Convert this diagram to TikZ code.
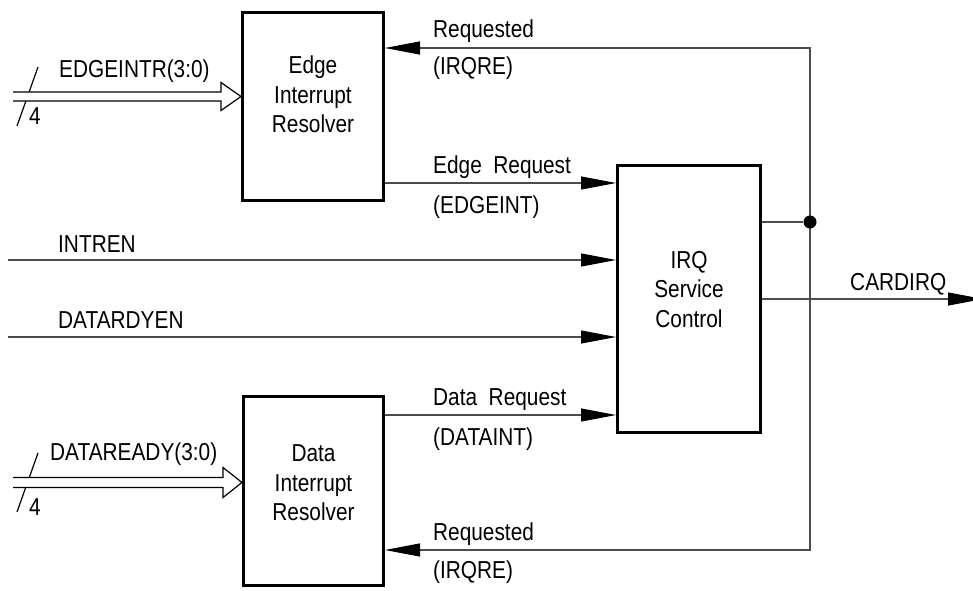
\documentclass[tikz,border=0pt]{standalone}
\usepackage{fontspec}
\setmainfont{Liberation Sans}[FakeStretch=0.85,WordSpace=2]
\usetikzlibrary{arrows.meta,calc}

\begin{document}
\begin{tikzpicture}[x=1pt,y=1pt,
    block/.style={draw,line width=3pt,inner sep=0pt},
    sig/.style={line width=1.1pt,draw=black!70},
    tip/.style={-{Triangle[length=35pt,width=13pt,color=black]}},
    bus/.style={line width=1.2pt},
    lbl/.style={inner sep=0pt,anchor=base west},
    every node/.style={font=\fontsize{24.5}{29.5}\selectfont}]
    \useasboundingbox (0,0) rectangle (973,590);

    % Blocks
    \node[block,minimum width=141pt,minimum height=188pt,
      label={[yshift=12pt,align=center]center:{Edge\\Interrupt\\Resolver}}] (edge) at (313,483.5) {};
    \node[block,minimum width=140pt,minimum height=189pt,
      label={[yshift=8pt,align=center]center:{Data\\Interrupt\\Resolver}}] (data) at (313.5,99) {};
    \node[block,minimum width=143pt,minimum height=267pt,
      label={[yshift=9.5pt,align=center]center:{IRQ\\Service\\Control}}] (irq) at (689,291) {};

    % Bus inputs
    \coordinate (eintr) at (13,493.5);
    \coordinate (etip) at (eintr -| edge.west);
    \draw[bus] ($(eintr)+(0,4.5)$) -- ($(etip)+(-20,4.5)$) -- ++(0,9.5) -- (etip)
      -- ++(-20,-14) -- ++(0,9.5) -- ($(eintr)+(0,-4.5)$);
    \draw[bus] (38,523) -- (29.1,498);
    \draw[bus] (25.9,489) -- (17,464);
    \node[lbl] (eintrname) at (59,512) {EDGEINTR(3:0)};
    \node[lbl] (eintrwidth) at (29,465) {4};

    \coordinate (dintr) at (13,107.5);
    \coordinate (dtip) at (dintr -| data.west);
    \draw[bus] ($(dintr)+(0,5)$) -- ($(dtip)+(-19,5)$) -- ++(0,10) -- (dtip)
      -- ++(-19,-15) -- ++(0,10) -- ($(dintr)+(0,-5)$);
    \draw[bus] (38,137) -- (29.3,112.5);
    \draw[bus] (25.7,102.5) -- (17,78);
    \node[lbl] (dintrname) at (50,130) {DATAREADY(3:0)};
    \node[lbl] (dintrwidth) at (29,75) {4};

    % Enables
    \coordinate (intren) at (8,330);
    \coordinate (datardyen) at (8,253);
    \draw[sig,tip] (intren) -- (intren -| irq.west);
    \draw[sig,tip] (datardyen) -- (datardyen -| irq.west);
    \node[lbl] (intrenname) at ($(intren)+(50,8)$) {INTREN};
    \node[lbl] (datardyenname) at ($(datardyen)+(50,9)$) {DATARDYEN};

    % Requests
    \path (edge.east) ++(0,-76.5) coordinate (ereq);
    \path (data.east) ++(0,76) coordinate (dreq);
    \draw[sig,tip] (ereq) -- (ereq -| irq.west);
    \draw[sig,tip] (dreq) -- (dreq -| irq.west);
    \node[lbl] (ereqa) at ($(ereq)+(48,9)$) {Edge Request};
    \node[lbl] (ereqb) at ($(ereq)+(48,-30)$) {(EDGEINT)};
    \node[lbl] (dreqa) at ($(dreq)+(48,10)$) {Data Request};
    \node[lbl] (dreqb) at ($(dreq)+(48,-30)$) {(DATAINT)};

    % Requested feedback
    \coordinate (rtop) at (810,542);
    \coordinate (rbot) at (810,40);
    \draw[sig,{Triangle[length=35pt,width=13pt,color=black]}-{Triangle[length=35pt,width=13pt,color=black]}]
      (rtop -| edge.east) -- (rtop) -- (rbot) -- (rbot -| data.east);
    \node[lbl] (rtopa) at ($(rtop -| edge.east)+(48,10)$) {Requested};
    \node[lbl] (rtopb) at ($(rtop -| edge.east)+(48,-27)$) {(IRQRE)};
    \node[lbl] (rbota) at ($(rbot -| data.east)+(48,10)$) {Requested};
    \node[lbl] (rbotb) at ($(rbot -| data.east)+(48,-28)$) {(IRQRE)};

    % Outputs
    \node[circle,fill,inner sep=0pt,minimum size=13pt] (jn) at (810,368) {};
    \draw[sig] (jn -| irq.east) -- (jn);
    \coordinate (cardirq) at (983,291);
    \draw[sig,tip] (irq.east) -- (cardirq);
    \node[lbl] (cardirqname) at ($(irq.east)+(88,9)$) {CARDIRQ};
\end{tikzpicture}
\end{document}
